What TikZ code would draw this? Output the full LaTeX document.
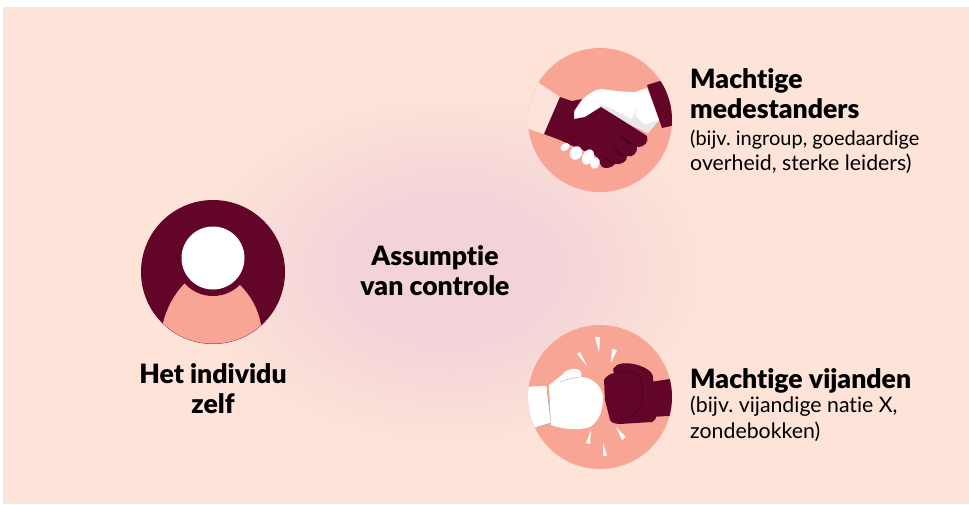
\documentclass[tikz,border=0pt]{standalone}
\usepackage{fontspec}
\setmainfont[BoldFont={Lato Black},Ligatures=NoCommon]{Lato}
\usetikzlibrary{positioning}
\definecolor{bgpeach}{HTML}{FDE3D8}
\definecolor{glowpink}{HTML}{F3D3D8}
\definecolor{wine}{HTML}{630529}
\definecolor{darkwine}{HTML}{42001A}
\definecolor{salmon}{HTML}{F9A595}
\definecolor{cuffpink}{HTML}{FDE3DA}
\definecolor{palegrey}{HTML}{E8E8E8}
\pgfdeclareradialshading{glow}{\pgfpoint{0bp}{0bp}}{
  color(0bp)=(glowpink); color(8bp)=(glowpink); color(20bp)=(bgpeach); color(50bp)=(bgpeach)}

\begin{document}
\begin{tikzpicture}[x=1pt,y=-1pt,
    title/.style={font=\bfseries\fontsize{26.6}{30}\selectfont,text=black,align=center},
    titleleft/.style={title,align=left,anchor=north west,inner sep=0pt},
    note/.style={font=\frenchspacing\fontsize{21.3}{25.5}\selectfont,text=black,align=left,anchor=north west,inner sep=0pt}]

  \useasboundingbox (0,0) rectangle (969,504);
  \fill[bgpeach] (3,7) rectangle (969,504);
  \shade[shading=glow] (130,50) rectangle (770,490);

  % het individu
  \node[circle,fill=wine,minimum size=144pt,inner sep=0pt] (self) at (213,272) {};
  \begin{scope}
    \clip (213,272) circle (71.7pt);
    \fill[salmon] (162,350) -- (163,323) .. controls (167,307) and (175,293) .. (185,283)
      -- (240,285) .. controls (250,295) and (258,308) .. (261,325)
      -- (262,350) -- cycle;
  \end{scope}
  \fill[wine] (213,258) circle (38pt);
  \node[circle,fill=white,minimum size=63pt,inner sep=0pt] (head) at (213,258) {};
  \node[title,below=16pt of self] (selflabel) {Het individu\\zelf};

  \node[title] (control) at (435,271) {Assumptie\\van controle};

  % handdruk
  \node[circle,fill=salmon,minimum size=144pt,inner sep=0pt] (allies) at (600,120) {};
  \begin{scope}
    \clip (600,120) circle (72pt);
    \fill[cuffpink] (539,83) -- (560,97) -- (544,134) -- (520,126) -- (520,83) -- cycle;
    \fill[wine] (647,85) -- (660,81) -- (680,100) -- (680,124) -- (662,128) -- cycle;
  \end{scope}
  \fill[white] (602,89) .. controls (615,91) and (625,92) .. (635,92) -- (647,88)
    -- (659,120) -- (648,133) -- (625,122) -- (602,106)
    .. controls (595,110) and (585,120) .. (577,120)
    .. controls (572,120) and (572,115) .. (574,112) .. controls (578,105) and (582,100) .. (584,98)
    .. controls (590,93) and (596,89) .. (602,89) -- cycle;
  \fill[palegrey] (585,117) -- (602,105) -- (608,107) -- (632,119) -- (637,108) -- (635,116) -- (645,125) -- (658,120)
    -- (648,133) -- (625,122) -- (602,109) -- cycle;
  \fill[wine] (560,97) -- (572,101) -- (582,99) -- (574,111) -- (574,119) -- (585,117) -- (601,107)
    -- (625,122) -- (647,136) .. controls (649,142) and (645,147) .. (637,147)
    .. controls (638,153) and (632,158) .. (627,156)
    .. controls (628,162) and (620,165) .. (615,164) .. controls (612,168) and (605,169) .. (602,167)
    -- (595,155) -- (575,147) -- (560,140) -- (544,134) -- cycle;
  \fill[darkwine] (618,134) -- (636,146) -- (629,144) -- cycle;
  \fill[darkwine] (612,146) -- (625,157) -- (619,155) -- cycle;
  \fill[darkwine] (603,157) -- (615,163) -- (609,162) -- cycle;
  \fill[white,rotate around={35:(565,147)}] (565,147) ellipse (5pt and 3.5pt);
  \fill[white,rotate around={60:(576,153)}] (576,153) ellipse (7pt and 6pt);
  \fill[white,rotate around={65:(588,157)}] (588,157) ellipse (8pt and 5.5pt);
  \fill[white,rotate around={70:(595,163)}] (595,163) ellipse (6pt and 4.5pt);

  \node[titleleft] (alliestitle) at (690,68) {Machtige\\medestanders};
  \node[note,below=11pt of alliestitle.south west,anchor=north west] (alliesnote) {{\fontsize{20}{25.5}\selectfont (bijv. ingroup, goedaardige}\\overheid, sterke leiders)};

  % bokshandschoenen
  \node[circle,fill=salmon,minimum size=144pt,inner sep=0pt] (enemies) at (600,397) {};
  \begin{scope}
    \clip (600,397) circle (72pt);
    \fill[white] (520,387) -- (545,386) .. controls (547,386) and (547,388) .. (547,389) -- (551,423)
      -- (537,427) -- (520,430) -- cycle;
    \draw[gray!70,line width=.5pt] (547,389) -- (551,423) -- (537,427);
    \fill[wine] (650,382) -- (670,379) -- (680,379) -- (680,416) -- (668,416) -- (650,417) -- cycle;
  \end{scope}
  \fill[white] (549,385) -- (562,375) .. controls (564,371) and (570,369) .. (573,369)
    .. controls (580,368) and (583,372) .. (581,377)
    .. controls (592,377) and (603,387) .. (603,397)
    .. controls (603,410) and (600,420) .. (590,427)
    .. controls (578,431) and (562,429) .. (551,425) -- cycle;
  \draw[gray!60,line width=.5pt] (560,382) .. controls (566,379) and (574,378) .. (580,377);
  \fill[wine] (604,380) .. controls (606,376) and (610,374) .. (614,373)
    .. controls (612,369) and (614,367) .. (615,367)
    .. controls (618,362) and (632,362) .. (643,367)
    .. controls (650,370) and (653,374) .. (653,377)
    -- (656,415) .. controls (656,419) and (655,421) .. (652,422)
    -- (620,424) .. controls (614,424) and (611,422) .. (610,420)
    -- (605,400) -- cycle;
  \draw[darkwine,line width=.4pt] (615,373) .. controls (625,371) and (635,372) .. (639,375)
    .. controls (644,382) and (643,400) .. (641,407) .. controls (638,412) and (628,418) .. (620,420);
  % lijntjes
  \fill[white] (595,337) -- (600,337) -- (599,352) -- cycle;
  \fill[white] (577,354) -- (580,352) -- (587,366) -- cycle;
  \fill[white] (612,349) -- (617,350) -- (611,363) -- cycle;
  \fill[white] (586,443) -- (590,444) -- (591,430) -- cycle;
  \fill[white] (603,456) -- (607,456) -- (603,442) -- cycle;
  \fill[white] (622,440) -- (626,437) -- (616,427) -- cycle;

  \node[titleleft] (enemiestitle) at (690,368) {Machtige vijanden};
  \node[note,below=3pt of enemiestitle.south west,anchor=north west] (enemiesnote) {(bijv. vijandige natie X,\\zondebokken)};
\end{tikzpicture}
\end{document}
